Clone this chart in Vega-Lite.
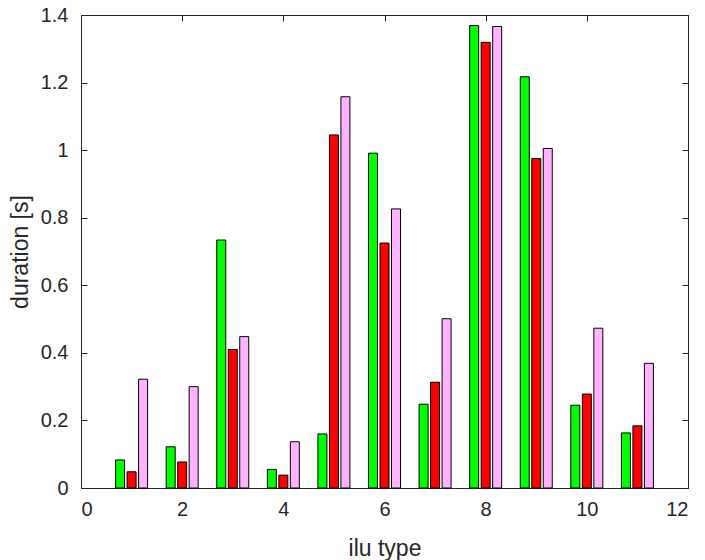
{
  "$schema": "https://vega.github.io/schema/vega-lite/v6.json",
  "width": 607,
  "height": 473,
  "autosize": {"type": "none"},
  "padding": {"left": 81, "top": 15, "right": 17, "bottom": 72},
  "background": "white",
  "config": {
    "view": {"stroke": "#262626", "strokeWidth": 1},
    "font": "Liberation Sans",
    "scale": {"continuousPadding": 0},
    "axis": {
      "domainColor": "#262626",
      "tickColor": "#262626",
      "labelColor": "#262626",
      "titleColor": "#262626",
      "labelFont": "Liberation Sans",
      "titleFont": "Liberation Sans",
      "labelFontSize": 20,
      "titleFontSize": 23,
      "titleFontWeight": "normal",
      "grid": false,
      "tickSize": -6,
      "tickWidth": 1,
      "domainWidth": 1
    }
  },
  "data": {
    "values": [
      {"ilu": 1, "series": "s1", "duration": 0.083},
      {"ilu": 1, "series": "s2", "duration": 0.048},
      {"ilu": 1, "series": "s3", "duration": 0.322},
      {"ilu": 2, "series": "s1", "duration": 0.122},
      {"ilu": 2, "series": "s2", "duration": 0.077},
      {"ilu": 2, "series": "s3", "duration": 0.300},
      {"ilu": 3, "series": "s1", "duration": 0.734},
      {"ilu": 3, "series": "s2", "duration": 0.410},
      {"ilu": 3, "series": "s3", "duration": 0.448},
      {"ilu": 4, "series": "s1", "duration": 0.055},
      {"ilu": 4, "series": "s2", "duration": 0.038},
      {"ilu": 4, "series": "s3", "duration": 0.137},
      {"ilu": 5, "series": "s1", "duration": 0.160},
      {"ilu": 5, "series": "s2", "duration": 1.045},
      {"ilu": 5, "series": "s3", "duration": 1.158},
      {"ilu": 6, "series": "s1", "duration": 0.991},
      {"ilu": 6, "series": "s2", "duration": 0.725},
      {"ilu": 6, "series": "s3", "duration": 0.826},
      {"ilu": 7, "series": "s1", "duration": 0.248},
      {"ilu": 7, "series": "s2", "duration": 0.313},
      {"ilu": 7, "series": "s3", "duration": 0.501},
      {"ilu": 8, "series": "s1", "duration": 1.369},
      {"ilu": 8, "series": "s2", "duration": 1.319},
      {"ilu": 8, "series": "s3", "duration": 1.366},
      {"ilu": 9, "series": "s1", "duration": 1.217},
      {"ilu": 9, "series": "s2", "duration": 0.975},
      {"ilu": 9, "series": "s3", "duration": 1.005},
      {"ilu": 10, "series": "s1", "duration": 0.245},
      {"ilu": 10, "series": "s2", "duration": 0.278},
      {"ilu": 10, "series": "s3", "duration": 0.473},
      {"ilu": 11, "series": "s1", "duration": 0.163},
      {"ilu": 11, "series": "s2", "duration": 0.184},
      {"ilu": 11, "series": "s3", "duration": 0.369}
    ]
  },
  "layer": [
    {
      "transform": [{"filter": "datum.series === 's1'"}],
      "mark": {"type": "bar", "width": 9, "xOffset": -11.5, "stroke": "black", "strokeWidth": 1, "fill": "#00ff00"},
      "encoding": {
        "x": {
          "field": "ilu", "type": "quantitative",
          "scale": {"domain": [0, 12], "nice": false, "zero": false, "padding": 0},
          "axis": {"title": "ilu type", "values": [0, 2, 4, 6, 8, 10, 12], "labelPadding": 17, "titlePadding": 18, "orient": "bottom"}
        },
        "y": {
          "field": "duration", "type": "quantitative",
          "scale": {"domain": [0, 1.4], "nice": false},
          "axis": {"title": "duration [s]", "values": [0, 0.2, 0.4, 0.6, 0.8, 1, 1.2, 1.4], "format": "~g", "labelPadding": 19, "titlePadding": 8, "orient": "left"}
        }
      }
    },
    {
      "transform": [{"filter": "datum.series === 's2'"}],
      "mark": {"type": "bar", "width": 9, "xOffset": 0, "stroke": "black", "strokeWidth": 1, "fill": "#ff0000"},
      "encoding": {
        "x": {"field": "ilu", "type": "quantitative", "scale": {"domain": [0, 12], "nice": false, "zero": false, "padding": 0}, "axis": null},
        "y": {"field": "duration", "type": "quantitative", "scale": {"domain": [0, 1.4], "nice": false}, "axis": null}
      }
    },
    {
      "transform": [{"filter": "datum.series === 's3'"}],
      "mark": {"type": "bar", "width": 9, "xOffset": 11.5, "stroke": "black", "strokeWidth": 1, "fill": "#ffb3ff"},
      "encoding": {
        "x": {"field": "ilu", "type": "quantitative", "scale": {"domain": [0, 12], "nice": false, "zero": false, "padding": 0}, "axis": null},
        "y": {"field": "duration", "type": "quantitative", "scale": {"domain": [0, 1.4], "nice": false}, "axis": null}
      }
    },
    {
      "mark": {"type": "point", "opacity": 0},
      "encoding": {
        "x": {
          "field": "ilu", "type": "quantitative",
          "scale": {"domain": [0, 12], "nice": false, "zero": false, "padding": 0},
          "axis": {"title": null, "orient": "top", "labels": false, "values": [0, 2, 4, 6, 8, 10, 12]}
        },
        "y": {
          "field": "duration", "type": "quantitative",
          "scale": {"domain": [0, 1.4], "nice": false},
          "axis": {"title": null, "orient": "right", "labels": false, "values": [0, 0.2, 0.4, 0.6, 0.8, 1, 1.2, 1.4]}
        }
      }
    }
  ],
  "resolve": {"axis": {"x": "independent", "y": "independent"}}
}
